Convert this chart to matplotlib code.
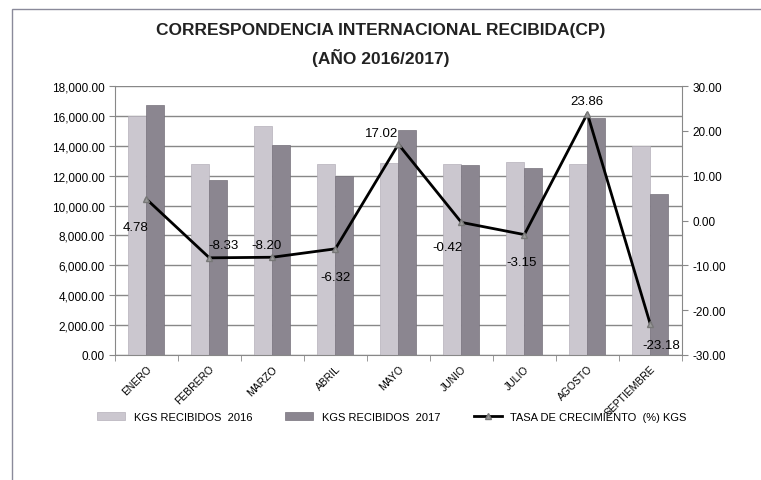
import numpy as np
import matplotlib.pyplot as plt
from matplotlib.patches import Rectangle

meses = ['ENERO', 'FEBRERO', 'MARZO', 'ABRIL', 'MAYO', 'JUNIO', 'JULIO', 'AGOSTO', 'SEPTIEMBRE']
kgs_2016 = [16000, 12800, 15300, 12800, 12870, 12750, 12940, 12780, 14000]
kgs_2017 = [16760, 11730, 14050, 11990, 15060, 12700, 12530, 15830, 10750]
tasa = [4.78, -8.33, -8.20, -6.32, 17.02, -0.42, -3.15, 23.86, -23.18]

# desplazamiento de las etiquetas (puntos)
offs = [(-8, -20), (10, 9), (-4, 9), (0, -20), (-12, 8), (-10, -18), (-2, -20), (0, 9), (8, -15)]

plt.rcParams['font.family'] = ['Liberation Sans', 'DejaVu Sans']

fig = plt.figure(figsize=(7.61, 4.81), dpi=100)
fig.patches.append(Rectangle((0.016, -0.05), 1.2, 1.029, transform=fig.transFigure,
                             fill=False, edgecolor='#8a8a9a', linewidth=1))
ax = fig.add_axes([0.151, 0.26, 0.745, 0.559])
x = np.arange(len(meses))
w = 0.285
ax.bar(x - w / 2, kgs_2016, w, color='#cbc7cf', edgecolor='#b5b1ba', linewidth=0.5,
       label='KGS RECIBIDOS  2016', zorder=2)
ax.bar(x + w / 2, kgs_2017, w, color='#8b8690', edgecolor='#77727c', linewidth=0.5,
       label='KGS RECIBIDOS  2017', zorder=2)
ax.set_ylim(0, 18000)
ax.set_yticks(np.arange(0, 18001, 2000))
ax.set_yticklabels(['{:,.2f}'.format(v) for v in np.arange(0, 18001, 2000)], fontsize=8.5)
ax.set_xlim(-0.5, len(meses) - 0.5)
ax.set_xticks(x)
ax.set_xticklabels(meses, rotation=45, ha='right', rotation_mode='anchor', fontsize=7.5)
ax.set_xticks(np.arange(-0.5, len(meses), 1), minor=True)
ax.tick_params(axis='x', which='major', length=0, pad=6)
ax.tick_params(axis='x', which='minor', length=4, color='#888888')
ax.tick_params(axis='y', length=4, color='#888888')
ax.grid(axis='y', color='#888888', linewidth=1, zorder=0)
for s in ['top', 'right']:
    ax.spines[s].set_visible(False)
ax.spines['left'].set_color('#888888')
ax.spines['bottom'].set_color('#888888')

ax2 = ax.twinx()
ax2.plot(x, tasa, color='black', linewidth=2, marker='^', markersize=5,
         markerfacecolor='#999999', markeredgecolor='#777777',
         label='TASA DE CRECIMIENTO  (%) KGS', zorder=3)
ax2.set_ylim(-30, 30)
ax2.set_yticks(np.arange(-30, 31, 10))
ax2.set_yticklabels(['{:.2f}'.format(v) for v in np.arange(-30, 31, 10)], fontsize=8.5)
ax2.tick_params(axis='y', length=4, color='#888888')
for s in ['top', 'left', 'bottom']:
    ax2.spines[s].set_visible(False)
ax2.spines['right'].set_color('#888888')
for i, v in enumerate(tasa):
    ax2.annotate('{:.2f}'.format(v), (x[i], v), xytext=offs[i], textcoords='offset points',
                 ha='center', va='center', fontsize=9.5)

fig.text(0.5, 0.937, 'CORRESPONDENCIA INTERNACIONAL RECIBIDA(CP)', ha='center', va='center',
         fontsize=12.5, fontweight='bold', color='#222222')
fig.text(0.5, 0.88, '(AÑO 2016/2017)', ha='center', va='center',
         fontsize=12.5, fontweight='bold', color='#222222')

h1, l1 = ax.get_legend_handles_labels()
h2, l2 = ax2.get_legend_handles_labels()
fig.legend(h1 + h2, l1 + l2, loc='center', bbox_to_anchor=(0.515, 0.132), ncol=3,
           frameon=False, fontsize=8, handlelength=2.5, columnspacing=3)

fig.savefig('out.png', dpi=100)
